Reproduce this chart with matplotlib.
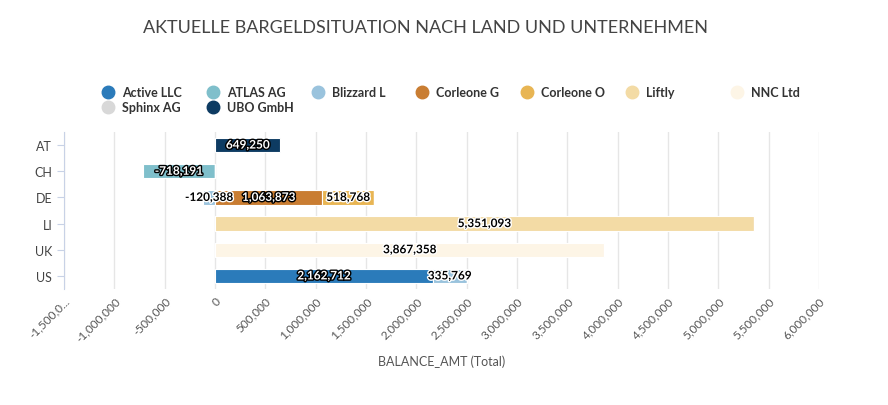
"""
Cash balance by country and company: stacked horizontal bars.
"""

import numpy as np
import matplotlib.pyplot as plt
import matplotlib.patheffects as pe
from matplotlib.lines import Line2D

COUNTRIES = ["AT", "CH", "DE", "LI", "UK", "US"]
COMPANIES = ["Active LLC", "ATLAS AG", "Blizzard L", "Corleone G", "Corleone O",
             "Liftly", "NNC Ltd", "Sphinx AG", "UBO GmbH"]
COLORS = {
    "Active LLC": "#2b7bba",
    "ATLAS AG":   "#7fbfcb",
    "Blizzard L": "#9ac3dd",
    "Corleone G": "#c97d32",
    "Corleone O": "#e8b553",
    "Liftly":     "#f3dba5",
    "NNC Ltd":    "#fdf5e6",
    "Sphinx AG":  "#d8d8d8",
    "UBO GmbH":   "#0d3b62",
}
DARK = {"Active LLC", "Corleone G", "UBO GmbH", "ATLAS AG"}

# balances per company, one value per country (AT, CH, DE, LI, UK, US)
ACTIVE_LLC = [0, 0, 0, 0, 0, 2162712]
ATLAS_AG   = [0, -718191, 0, 0, 0, 0]
BLIZZARD_L = [0, 0, -120388, 0, 0, 335769]
CORLEONE_G = [0, 0, 1063873, 0, 0, 0]
CORLEONE_O = [0, 0, 518768, 0, 0, 0]
LIFTLY     = [0, 0, 0, 5351093, 0, 0]
NNC_LTD    = [0, 0, 0, 0, 3867358, 0]
SPHINX_AG  = [0, 0, 0, 0, 0, 0]
UBO_GMBH   = [649250, 0, 0, 0, 0, 0]

SERIES = [ACTIVE_LLC, ATLAS_AG, BLIZZARD_L, CORLEONE_G, CORLEONE_O,
          LIFTLY, NNC_LTD, SPHINX_AG, UBO_GMBH]

plt.rcParams["font.family"] = ["Lato", "DejaVu Sans"]

fig = plt.figure(figsize=(8.88, 4.06), dpi=100)
ax = fig.add_axes([64 / 888, 1 - 290 / 406, (819 - 64) / 888, (290 - 133) / 406])

y = np.arange(len(COUNTRIES))
pos = np.zeros(len(COUNTRIES))
neg = np.zeros(len(COUNTRIES))
for name, vals in zip(COMPANIES, SERIES):
    vals = np.array(vals, dtype=float)
    left = np.where(vals >= 0, pos, neg)
    ax.barh(y, vals, left=left, height=0.55, color=COLORS[name],
            edgecolor="white", linewidth=0.8, zorder=2)
    for i, v in enumerate(vals):
        if v == 0:
            continue
        cx = left[i] + v / 2
        if name in DARK:
            col, stroke = "white", "black"
        else:
            col, stroke = "black", "white"
        ax.text(cx, y[i], f"{v:,.0f}", ha="center", va="center", fontsize=8.5,
                fontweight="bold", color=col, zorder=3,
                path_effects=[pe.withStroke(linewidth=2, foreground=stroke)])
    pos = np.where(vals >= 0, pos + vals, pos)
    neg = np.where(vals < 0, neg + vals, neg)

ax.set_xlim(-1500000, 6000000)
ax.set_ylim(len(COUNTRIES) - 0.5, -0.5)
ax.set_yticks(y)
ax.set_yticklabels(COUNTRIES, fontsize=9, color="#444444")
ticks = np.arange(-1500000, 6000001, 500000)
ax.set_xticks(ticks)
labels = [f"{t:,.0f}" for t in ticks]
labels[0] = "-1,500,0..."
ax.set_xticklabels(labels, rotation=45, ha="right", rotation_mode="anchor",
                   fontsize=8.5, color="#555555")
ax.grid(axis="x", color="#e6e6e6", linewidth=1, zorder=0)
for s in ["top", "right", "bottom"]:
    ax.spines[s].set_visible(False)
ax.spines["left"].set_color("#c8d2e6")
ax.tick_params(axis="x", length=0, pad=4)
ax.tick_params(axis="y", length=5, color="#c8d2e6")
ax.set_xlabel("BALANCE_AMT (Total)", fontsize=9, color="#555555", labelpad=8)

fig.text(425 / 888, 1 - 28 / 406, "AKTUELLE BARGELDSITUATION NACH LAND UND UNTERNEHMEN",
         ha="center", va="center", fontsize=13, color="#444444")

# legend laid out row by row, 7 entries per row
for k, name in enumerate(COMPANIES):
    px = (108 + (k % 7) * 104.8) / 888
    py = 1 - (93 + (k // 7) * 15) / 406
    fig.add_artist(Line2D([px], [py], marker="o", linestyle="", markersize=9,
                          markerfacecolor=COLORS[name], markeredgecolor=COLORS[name],
                          transform=fig.transFigure))
    fig.text(px + 14 / 888, py, name, ha="left", va="center", fontsize=9,
             fontweight="bold", color="#333333")

plt.savefig("out.png", dpi=100)
plt.close()
